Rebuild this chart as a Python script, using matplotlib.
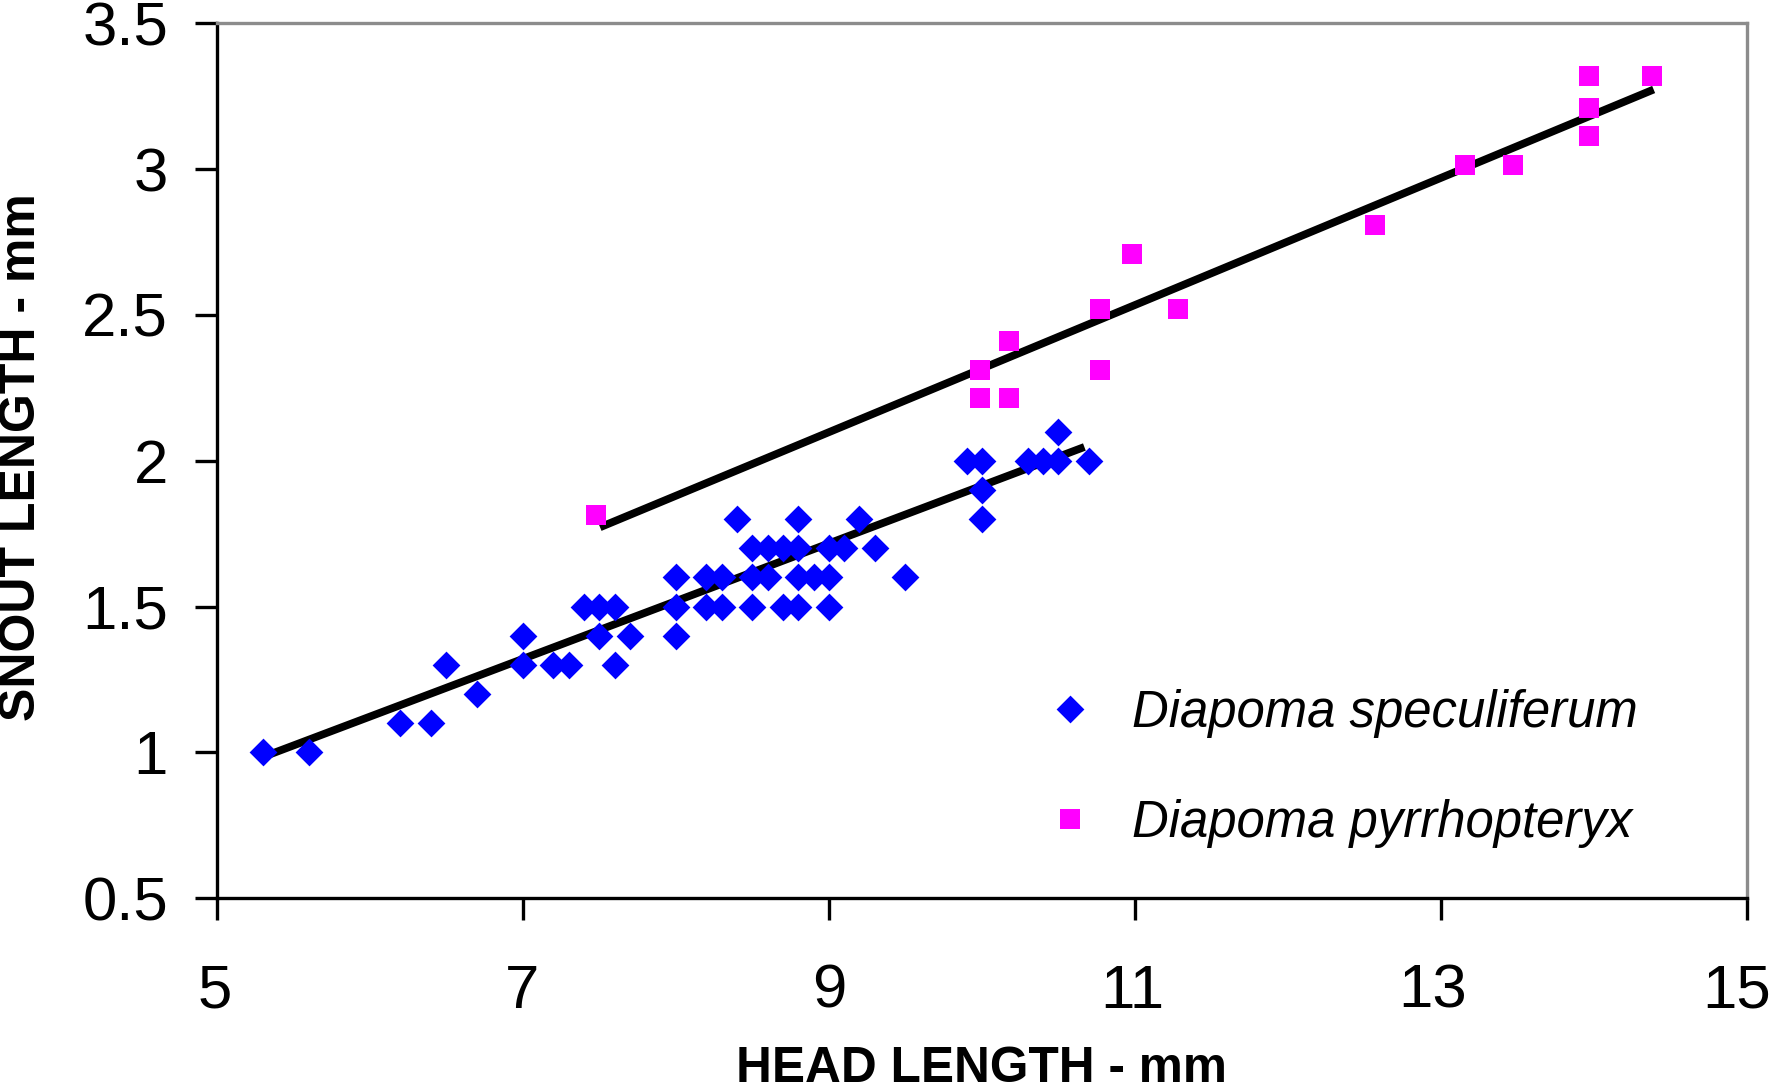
import numpy as np
import matplotlib
matplotlib.use("Agg")
import matplotlib.pyplot as plt
from matplotlib.path import Path
from matplotlib.transforms import ScaledTranslation

# Diapoma speculiferum (blue diamonds)
spec_head = [5.3, 5.6, 6.2, 6.4, 6.5, 6.7, 7.0, 7.0, 7.2, 7.3, 7.4, 7.5, 7.5, 7.6, 7.6, 7.7,
             8.0, 8.0, 8.0, 8.2, 8.2, 8.3, 8.3, 8.4, 8.5, 8.5, 8.5, 8.6, 8.6, 8.7, 8.7,
             8.8, 8.8, 8.8, 8.8, 8.9, 9.0, 9.0, 9.0, 9.1, 9.2, 9.3, 9.5,
             9.9, 10.0, 10.0, 10.0, 10.3, 10.4, 10.5, 10.5, 10.7]
spec_snout = [1.0, 1.0, 1.1, 1.1, 1.3, 1.2, 1.4, 1.3, 1.3, 1.3, 1.5, 1.5, 1.4, 1.5, 1.3, 1.4,
              1.6, 1.5, 1.4, 1.6, 1.5, 1.6, 1.5, 1.8, 1.7, 1.6, 1.5, 1.7, 1.6, 1.7, 1.5,
              1.8, 1.7, 1.6, 1.5, 1.6, 1.7, 1.6, 1.5, 1.7, 1.8, 1.7, 1.6,
              2.0, 2.0, 1.9, 1.8, 2.0, 2.0, 2.1, 2.0, 2.0]

# Diapoma pyrrhopteryx (magenta squares)
pyr_head = [7.48, 9.99, 9.99, 10.18, 10.18, 10.77, 10.77, 10.98, 11.28,
            12.57, 13.16, 13.47, 13.97, 13.97, 13.97, 14.38]
pyr_snout = [1.815, 2.31, 2.215, 2.41, 2.215, 2.52, 2.31, 2.71, 2.52,
             2.81, 3.015, 3.015, 3.32, 3.21, 3.115, 3.32]

# fitted trend lines: (slope, intercept, x start, x end)
spec_fit = (0.198, -0.0653, 5.32, 10.67)
pyr_fit = (0.218, 0.136, 7.505, 14.39)

labels = ["Diapoma speculiferum", "Diapoma pyrrhopteryx"]
x_ticks = [5, 7, 9, 11, 13, 15]
y_ticks = [0.5, 1, 1.5, 2, 2.5, 3, 3.5]
y_tick_labels = ['0.5', '1', '1.5', '2', '2.5', '3', '3.5']

plt.rcParams['font.family'] = ['Liberation Sans', 'DejaVu Sans']

fig = plt.figure(figsize=(17.71, 10.90), dpi=100)
ax = fig.add_axes([216.7 / 1771, 1 - 898.3 / 1090, (1747 - 216.7) / 1771, (898.3 - 23.3) / 1090])

for m, b, x0, x1 in [spec_fit, pyr_fit]:
    xs = np.array([x0, x1])
    ax.plot(xs, m * xs + b, color='black', lw=5.6, solid_capstyle='butt', zorder=2)

diamond = Path([(0, 1), (1, 0), (0, -1), (-1, 0), (0, 1)], closed=True)
square = Path([(-1, -1), (1, -1), (1, 1), (-1, 1), (-1, -1)], closed=True)

ax.plot(spec_head, spec_snout, ls='none', marker=diamond, ms=20, mew=0, color='#0000FF',
        label=labels[0], zorder=3)
ax.plot(pyr_head, pyr_snout, ls='none', marker=square, ms=14.9, mew=0, color='#FF00FF',
        label=labels[1], zorder=3)

ax.set_xlim(5, 15)
ax.set_ylim(0.5, 3.5)
ax.set_xticks(x_ticks)
ax.set_yticks(y_ticks)
ax.set_xticklabels([str(t) for t in x_ticks])
ax.set_yticklabels(y_tick_labels)
ax.tick_params(axis='both', direction='out', length=16, width=2.4, labelsize=44.5, color='black')
ax.tick_params(axis='x', pad=31)
ax.tick_params(axis='y', pad=19)

# small horizontal nudges of the x tick labels as in the original rendering
x_shift_px = [-2, -1, 0, -3, -8, -10]
for lab, dx in zip(ax.get_xticklabels(), x_shift_px):
    lab.set_transform(lab.get_transform() + ScaledTranslation(dx / 100, 0, fig.dpi_scale_trans))

for s in ['left', 'bottom']:
    ax.spines[s].set_color('black')
    ax.spines[s].set_linewidth(2.4)
for s in ['top', 'right']:
    ax.spines[s].set_color('#8c8c8c')
    ax.spines[s].set_linewidth(2.4)

fig.text(982 / 1771, 1 - 1082 / 1090, 'HEAD LENGTH - mm', ha='center', va='baseline',
         fontsize=35.7, fontweight='bold')
fig.text(22 / 1771, 1 - 457 / 1090, 'SNOUT LENGTH - mm', ha='center', va='center',
         rotation=90, fontsize=36, fontweight='bold')

leg = ax.legend(loc='upper left', bbox_to_anchor=(1045 / 1771, 1 - 689 / 1090),
                bbox_transform=fig.transFigure, frameon=False,
                prop={'style': 'italic', 'size': 36.6}, handlelength=1.0, handletextpad=0.72,
                labelspacing=1.2, borderpad=0, borderaxespad=0)

fig.savefig('out.png', dpi=100)
